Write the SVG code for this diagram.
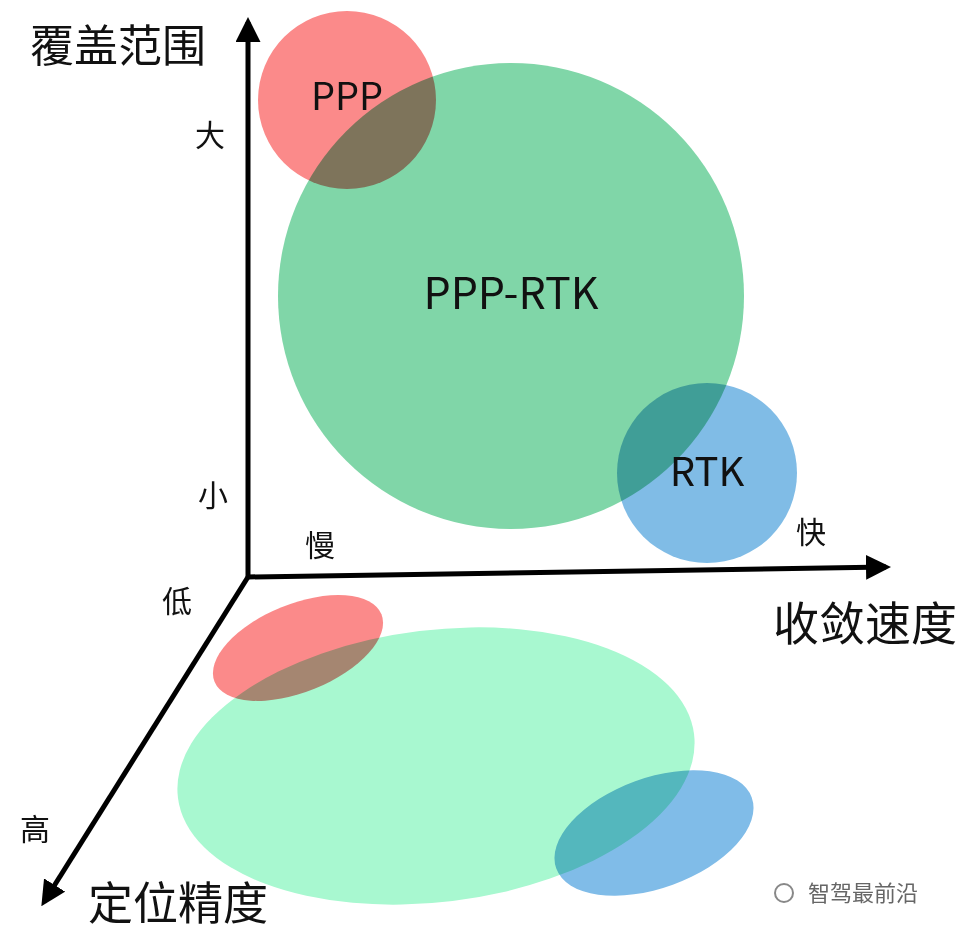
<svg xmlns="http://www.w3.org/2000/svg" width="960" height="936" viewBox="0 0 960 936">
<style>
text{font-family:"Noto Sans CJK SC","Noto Sans",sans-serif;fill:#111}
.ax{stroke:#000;stroke-width:5;fill:none}
.m{mix-blend-mode:multiply}
</style>
<defs><marker id="ar" viewBox="0 0 10 10" refX="8" refY="5" markerWidth="5" markerHeight="5" orient="auto"><path d="M0,0L10,5L0,10z" fill="#000"/></marker></defs>
<rect width="960" height="936" fill="#fff"/>
<g id="bubbles">
<circle cx="511" cy="296" r="233" fill="#80d6a8"/>
<circle class="m" cx="347" cy="100" r="89" fill="#fb8a8a"/>
<circle class="m" cx="707" cy="473" r="90" fill="#80bce6"/>
</g>
<g id="shadows">
<ellipse cx="436" cy="766" rx="260" ry="136" transform="rotate(-7 436 766)" fill="#a8f8d0"/>
<ellipse class="m" cx="298" cy="648" rx="90" ry="44" transform="rotate(-22 298 648)" fill="#fb8a8a"/>
<ellipse class="m" cx="654" cy="833" rx="104" ry="55" transform="rotate(-20 654 833)" fill="#80bce8"/>
</g>
<g id="connectors">
<line class="ax" x1="248" y1="577" x2="248" y2="22" marker-end="url(#ar)"/>
<line class="ax" x1="248" y1="577" x2="886" y2="567" marker-end="url(#ar)"/>
<line class="ax" x1="248" y1="577" x2="44" y2="902" marker-end="url(#ar)"/>
</g>
<g id="labels" font-size="30">
<text x="347" y="110" font-size="38" text-anchor="middle">PPP</text>
<text x="511" y="309" font-size="43" text-anchor="middle">PPP-RTK</text>
<text x="707" y="486" font-size="40" text-anchor="middle">RTK</text>
<text x="30" y="62" font-size="44">覆盖范围</text>
<text x="195" y="146">大</text>
<text x="198" y="506">小</text>
<text x="305" y="556">慢</text>
<text x="796" y="543">快</text>
<text x="162" y="612">低</text>
<text x="773" y="640" font-size="46">收敛速度</text>
<text x="20" y="840">高</text>
<text x="88" y="920" font-size="45">定位精度</text>
<text x="808" y="901" font-size="22" style="fill:#666">智驾最前沿</text>
<circle cx="784" cy="893" r="9" fill="none" stroke="#888" stroke-width="2"/>
</g>
</svg>
